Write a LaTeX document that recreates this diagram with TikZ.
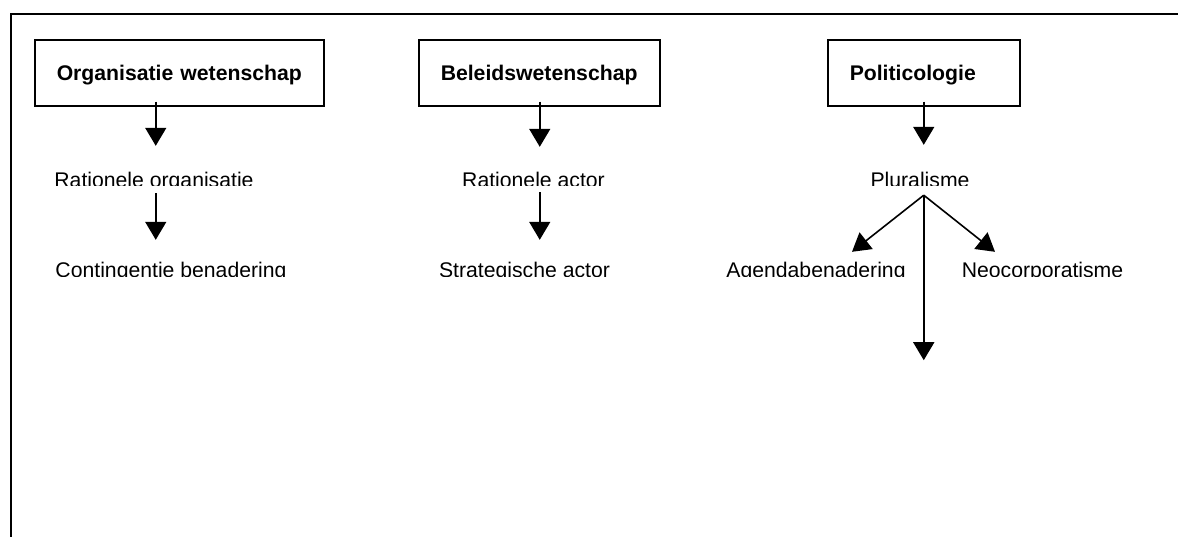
\documentclass[tikz,border=0pt]{standalone}
\usepackage{fontspec}
\setmainfont{Liberation Sans}
\usetikzlibrary{arrows.meta,calc}
\tikzset{
  box/.style={draw, line width=1.5pt, anchor=north west, minimum height=66pt, inner xsep=22pt, inner ysep=0pt, align=left, text height=16pt, text depth=0pt, font=\fontsize{21.2}{25}\selectfont\bfseries},
  lbl/.style={inner sep=0pt, anchor=base, text height=15.5pt, text depth=4.5pt, font=\fontsize{21.2}{25}\selectfont},
  arr/.style={line width=1.6pt, -{Triangle[length=18pt,width=21pt]}}
}
\begin{document}
\begin{tikzpicture}[x=1pt,y=-1pt]
\useasboundingbox (0,0) rectangle (1178,536);
\clip (0,0) rectangle (1178,536);
\draw[line width=2.4pt] (11,14) rectangle (1200,560);
% boxes
\node[box, minimum width=289pt, text width=245pt] (b1) at (34,39) {\mbox{Organisatie wetenschap}};
\node[box, minimum width=241pt, text width=197pt] (b2) at (418,39) {\mbox{Beleidswetenschap}};
\node[box, minimum width=192pt, text width=148pt] (b3) at (827,39) {\mbox{Politicologie}};
% row 1 labels (clipped as in the reference)
\begin{scope}
\clip (0,150) rectangle (1178,185.5);
\node[lbl] (t1) at (154,187.5) {Rationele organisatie};
\node[lbl] (t2) at (533.5,187.5) {Rationele actor};
\node[lbl] (t5) at (920,187.5) {Pluralisme};
\end{scope}
% row 2 labels
\begin{scope}
\clip (0,240) rectangle (1178,276);
\node[lbl] (t3) at (171,277.5) {Contingentie benadering};
\node[lbl] (t4) at (524.5,277.5) {Strategische actor};
\node[lbl] (t6) at (816,277.5) {Agendabenadering};
\node[lbl] (t7) at (1042.5,277.5) {Neocorporatisme};
\end{scope}
% column 1
\coordinate (s1) at ($(b1.south)+(-23.5,-5)$);
\draw[arr] (s1) -- ([yshift=26pt]s1 |- t1.north);
\draw[arr] ([yshift=-1pt]s1 |- t1.south) -- ([yshift=22pt]s1 |- t3.north);
% column 2
\coordinate (s2) at ($(b2.south)+(0.5,-5)$);
\draw[arr] (s2) -- ([yshift=25pt]s2 |- t2.north);
\draw[arr] (s2 |- t2.south) -- ([yshift=22pt]s2 |- t4.north);
% column 3
\coordinate (s3) at ($(b3.south)+(0,-5)$);
\draw[arr] (s3) -- ([yshift=27pt]s3 |- t5.north);
\coordinate (o3) at ([yshift=-3pt]s3 |- t5.south);
\coordinate (e3) at ($(o3)+(0,165)$);
\draw[arr] (o3) -- ([xshift=36pt,yshift=10pt]t6.north);
\draw[arr] (o3) -- ([xshift=-47.5pt,yshift=10pt]t7.north);
\draw[arr] (o3) -- (e3);
\end{tikzpicture}
\end{document}
